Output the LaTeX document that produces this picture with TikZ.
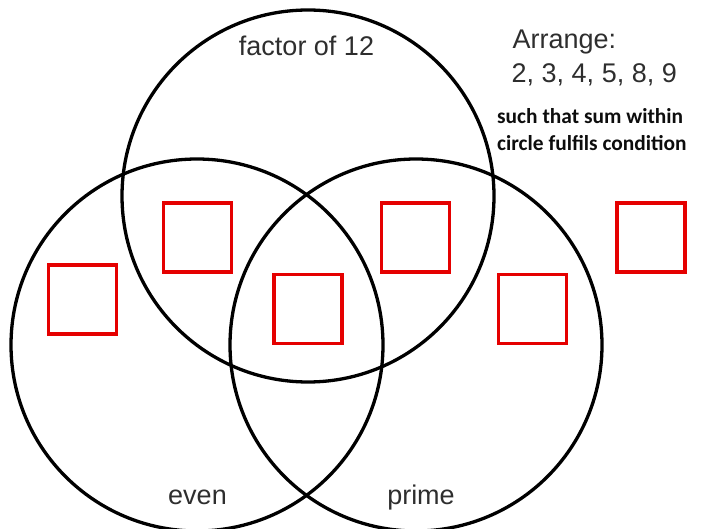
\documentclass[tikz,border=0pt]{standalone}
\usepackage{fontspec}
\setmainfont{Liberation Sans}
\newfontfamily\notefont{Carlito}
\begin{document}
\begin{tikzpicture}[x=1pt,y=-1pt,
    set/.style={circle,draw=black,line width=3.3pt,minimum size=372pt,inner sep=0pt},
    slot/.style={draw=red!90!black,line width=3.5pt,minimum width=68pt,minimum height=69pt,inner sep=0pt},
    label/.style={text=black!82,font=\fontsize{27}{32}\selectfont,inner sep=0pt,anchor=base},
    note/.style={text=black!95,font=\notefont\bfseries\fontsize{21.4}{26}\selectfont,inner sep=0pt,anchor=base west}]
    \useasboundingbox (0,0) rectangle (714,529);
    % the three sets
    \node[set] (factor) at (308,196) {};
    \node[set] (even) at (197,345) {};
    \node[set] (prime) at (416,345) {};
    % set names
    \node[label] (factorname) at (306.5,56) {factor of 12};
    \node[label] (evenname) at (197.5,504) {even};
    \node[label] (primename) at (421,504) {prime};
    % task
    \node[label,anchor=base west] (arrange) at (512.5,49) {Arrange:};
    \node[label,anchor=base west] (numbers) at (511.5,83) {2, 3, 4, 5, 8, 9};
    \node[note] (note1) at (497,124) {such that sum within};
    \node[note] (note2) at (497,151) {circle fulfils condition};
    % empty boxes
    \node[slot] (evenonly) at (82.5,299.5) {};
    \node[slot] (evenfactor) at (197.5,237.5) {};
    \node[slot] (middle) at (308,309) {};
    \node[slot] (factorprime) at (415.5,237.5) {};
    \node[slot] (primeonly) at (532.5,309) {};
    \node[slot] (outside) at (651,237.5) {};
\end{tikzpicture}
\end{document}
